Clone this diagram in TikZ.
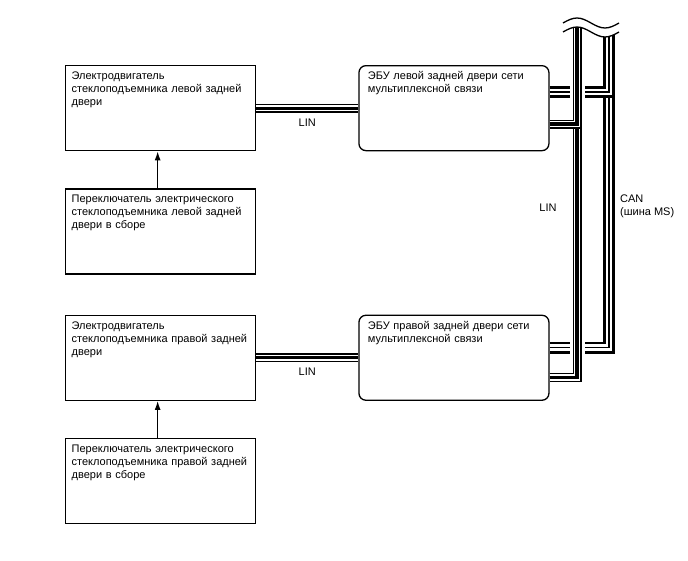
\documentclass[tikz,border=0pt]{standalone}
\usepackage{fontspec}
\setmainfont{Liberation Sans}
\usepackage{tikz}
\usetikzlibrary{positioning,arrows.meta}

\begin{document}
\begin{tikzpicture}[x=1pt, y=-1pt,
    every node/.append style={font=\fontsize{11}{13}\selectfont},
    unit/.style={draw=black, line width=1.3pt, anchor=north west, align=left, text width=178pt,
        text height=9.5pt, text depth=66.5pt, inner xsep=6pt, inner ysep=4.5pt},
    ecu/.style={unit, rounded corners=7pt, text width=172pt, inner xsep=9pt},
    lbl/.style={inner sep=1pt},
    lin/.style={draw=black, line width=3.2pt, preaction={draw=black, line width=9pt},
        preaction={draw=white, line width=6.4pt}},
    linx/.style={preaction={draw=white, line width=15pt}, lin},
    can/.style={draw=black, line width=1.2pt, preaction={draw=black, line width=12pt},
        preaction={draw=white, line width=6.4pt}}]
        \useasboundingbox (0,0) rectangle (688,560);
        \pgfmathsetmacro{\linx}{577}
        \pgfmathsetmacro{\canx}{609}
        \node[unit] (motL) at (65,65) {Электродвигатель\\стеклоподъемника левой задней\\двери};
        \node[unit, below=37pt of motL] (swL) {Переключатель электрического\\стеклоподъемника левой задней\\двери в сборе};
        \node[unit, below=40pt of swL] (motR) {Электродвигатель\\стеклоподъемника правой задней\\двери};
        \node[unit, below=37pt of motR] (swR) {Переключатель электрического\\стеклоподъемника правой задней\\двери в сборе};
        \node[ecu, right=102pt of motL] (ecuL) {ЭБУ левой задней двери сети\\мультиплексной связи};
        \node[ecu, right=102pt of motR] (ecuR) {ЭБУ правой задней двери сети\\мультиплексной связи};
        \coordinate (linTop) at (\linx,20);
        \coordinate (canTop) at (\canx,20);
        \draw[-{Latex[length=9pt,width=6pt]}, line width=1.3pt] ([xshift=-3pt]swL.north) -- ([xshift=-3pt]motL.south);
        \draw[-{Latex[length=9pt,width=6pt]}, line width=1.3pt] ([xshift=-3pt]swR.north) -- ([xshift=-3pt]motR.south);
        \draw[lin] (motL) -- node[lbl, below=8pt] (linL) {LIN} (ecuL);
        \draw[lin] (motR) -- node[lbl, below=8pt] (linR) {LIN} (ecuR);
        \draw[can] ([yshift=-33pt]ecuR.north east) -| (canTop);
        \draw[can] ([yshift=-27pt]ecuL.north east) -| (canTop);
        \draw[linx] ([yshift=-63pt]ecuR.north east) -| (linTop);
        \draw[lin] ([yshift=-59pt]ecuL.north east) -| (linTop);
        \fill[white] (558,0) -- (558,32) -- (563,32) sin (577,27) cos (591,32) sin (605,37) cos (619,32) -- (626,32) -- (626,0) -- cycle;
        \draw[line width=1.3pt] (563,23) sin (577,18) cos (591,23) sin (605,28) cos (619,23);
        \draw[line width=1.3pt] (563,32) sin (577,27) cos (591,32) sin (605,37) cos (619,32);
        \node[lbl] (linV) at (548,208) {LIN};
        \node[lbl, anchor=north west, align=left] (canV) at (619,194) {CAN\\(шина MS)};
    \end{tikzpicture}
\end{document}
